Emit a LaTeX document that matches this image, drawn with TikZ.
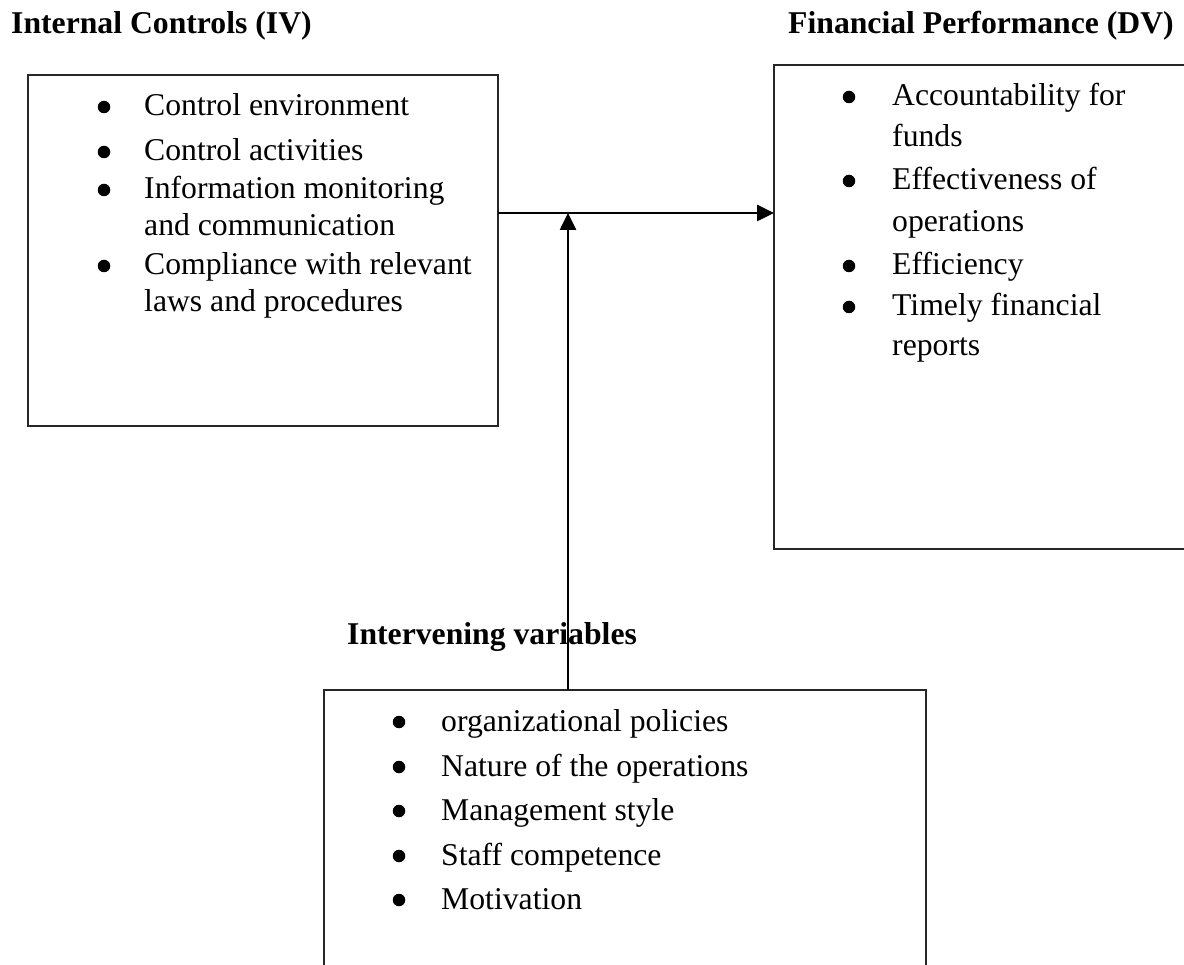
\documentclass[tikz,border=0pt]{standalone}
\usepackage{fontspec}
\setmainfont{Liberation Serif}
\usetikzlibrary{arrows.meta}

\begin{document}
\begin{tikzpicture}[x=1pt,y=-1pt,
  box/.style={draw=black!85, line width=1.4pt, rectangle, anchor=north west,
              inner sep=0pt, outer sep=0pt},
  heading/.style={anchor=base west, inner sep=0pt, font=\fontsize{31.7}{38}\selectfont\bfseries},
  entry/.style={anchor=base west, inner sep=0pt, font=\fontsize{31.7}{38}\selectfont},
  dot/.style={circle, fill=black, inner sep=0pt, minimum size=12.5pt, yshift=9pt},
  link/.style={line width=2.6pt, -{Triangle[length=17pt,width=16pt]}}]

\useasboundingbox (0,0) rectangle (1184,965);
\clip (0,0) rectangle (1184,965);
\fill[white] (0,0) rectangle (1184,965);

% headings
\node[heading] (hIV) at (11,34) {Internal Controls (IV)};
\node[heading] (hDV) at (788,34) {Financial Performance (DV)};
\node[heading] (hIn) at (347,644) {Intervening variables};

% the three frames
\node[box, minimum width=470pt, minimum height=351pt] (iv) at (28,75) {};
\node[box, minimum width=440pt, minimum height=484pt] (dv) at (774,65) {};
\node[box, minimum width=602pt, minimum height=320pt] (mv) at (324,690) {};

% internal controls
\node[dot] (b1) at (104,116) {};
\node[entry] (t1) at (144,116) {Control environment};
\node[dot] (b2) at (104,161) {};
\node[entry] (t2) at (144,161) {Control activities};
\node[dot] (b3) at (104,199) {};
\node[entry] (t3) at (144,199) {Information monitoring};
\node[entry] (t3b) at (144,236) {and communication};
\node[dot] (b4) at (104,275) {};
\node[entry] (t4) at (144,275) {Compliance with relevant};
\node[entry] (t4b) at (144,312) {laws and procedures};

% financial performance
\node[dot] (d1) at (849,106) {};
\node[entry] (u1) at (892,106) {Accountability for};
\node[entry] (u1b) at (892,147) {funds};
\node[dot] (d2) at (849,190) {};
\node[entry] (u2) at (892,190) {Effectiveness of};
\node[entry] (u2b) at (892,232) {operations};
\node[dot] (d3) at (849,275) {};
\node[entry] (u3) at (892,275) {Efficiency};
\node[dot] (d4) at (849,316) {};
\node[entry] (u4) at (892,316) {Timely financial};
\node[entry] (u4b) at (892,356) {reports};

% intervening variables
\node[dot] (m1) at (399,731) {};
\node[entry] (v1) at (441,731) {organizational policies};
\node[dot] (m2) at (399,776) {};
\node[entry] (v2) at (441,776) {Nature of the operations};
\node[dot] (m3) at (399,820) {};
\node[entry] (v3) at (441,820) {Management style};
\node[dot] (m4) at (399,865) {};
\node[entry] (v4) at (441,865) {Staff competence};
\node[dot] (m5) at (399,909) {};
\node[entry] (v5) at (441,909) {Motivation};

% connectors
\coordinate (j) at (568,213);
\draw[link] (iv.east |- j) -- (dv.west |- j);
\draw[link] (mv.north -| j) -- (j);

\end{tikzpicture}
\end{document}
